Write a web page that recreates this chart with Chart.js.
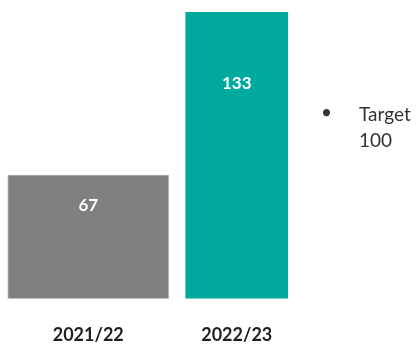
<!DOCTYPE html>
<html>
<head>
<meta charset="utf-8">
<script src="https://cdn.jsdelivr.net/npm/chart.js@4.4.1/dist/chart.umd.min.js"></script>
<style>
  html, body { margin: 0; padding: 0; background: #ffffff; }
  #wrap { position: relative; width: 418px; height: 345px; }
</style>
</head>
<body>
<div id="wrap"><canvas id="c" width="418" height="345"></canvas></div>
<script>
const categories = ['2021/22', '2022/23'];
const values = [67, 133];
const barColors = ['#808080', '#00a99d'];
const targetLines = ['Target', '100'];

const datasets = values.map((v, i) => ({
  data: categories.map((_, j) => (j === i ? v : null)),
  backgroundColor: barColors[i],
  borderColor: i === 0 ? '#b5b5b5' : barColors[i],
  borderWidth: i === 0 ? 1 : 0,
  barThickness: i === 0 ? 161 : 102,
  grouped: false,
  clip: { left: 12, right: 12, top: 0, bottom: 0 }
}));

const labelPlugin = {
  id: 'labels',
  afterDatasetsDraw(chart) {
    const ctx = chart.ctx;
    ctx.save();
    ctx.fillStyle = '#ffffff';
    ctx.font = 'bold 17px Lato';
    ctx.textAlign = 'center';
    ctx.textBaseline = 'middle';
    chart.data.datasets.forEach((ds, di) => {
      const meta = chart.getDatasetMeta(di);
      meta.data.forEach((bar, j) => {
        const v = ds.data[j];
        if (v == null) return;
        const base = Math.min(bar.base, chart.chartArea.bottom);
        const y = bar.y + 0.248 * (base - bar.y);
        ctx.fillText(String(v), bar.x, y);
      });
    });
    // target note
    ctx.fillStyle = '#333333';
    ctx.textAlign = 'left';
    ctx.textBaseline = 'alphabetic';
    ctx.font = '19px Lato';
    ctx.fillText('\u2022', 321, 119);
    ctx.fillText(targetLines[0], 359, 121);
    ctx.fillText(targetLines[1], 359, 147);
    ctx.restore();
  }
};

new Chart(document.getElementById('c'), {
  type: 'bar',
  data: { labels: categories, datasets },
  options: {
    responsive: false,
    animation: false,
    devicePixelRatio: 1,
    layout: { padding: { top: 12, left: 14, right: 107, bottom: 0 } },
    plugins: { legend: { display: false }, tooltip: { enabled: false } },
    scales: {
      x: {
        grid: { display: false, drawTicks: false },
        border: { display: false },
        ticks: { color: '#231f20', font: { family: 'Lato', size: 18, weight: 'bold' }, padding: 26 },
        afterFit(scale) { scale.height = 46.5; }
      },
      y: {
        display: false,
        min: 17,
        max: 133
      }
    }
  },
  plugins: [labelPlugin]
});
</script>
</body>
</html>
